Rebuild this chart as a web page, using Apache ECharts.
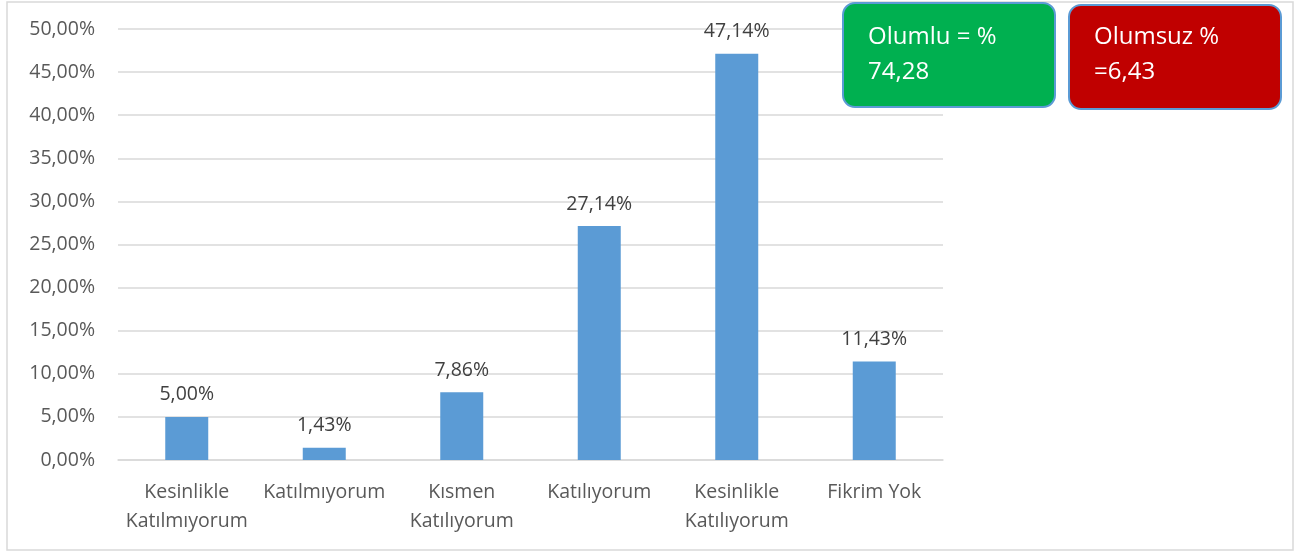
<!DOCTYPE html>
<html>
<head>
<meta charset="UTF-8">
<script src="https://cdn.jsdelivr.net/npm/echarts@6/dist/echarts.min.js"></script>
<style>
  html, body { margin: 0; padding: 0; background: #fff; }
  #main { width: 1304px; height: 554px; }
</style>
</head>
<body>
<div id="main"></div>
<script>
// veriler
var kategoriler = ['Kesinlikle\nKatılmıyorum', 'Katılmıyorum', 'Kısmen\nKatılıyorum', 'Katılıyorum', 'Kesinlikle\nKatılıyorum', 'Fikrim Yok'];
var oranlar = [5.00, 1.43, 7.86, 27.14, 47.14, 11.43];
var olumluText = ['Olumlu = %', '74,28'];
var olumsuzText = ['Olumsuz %', '=6,43'];

function yuzde(v) {
    return v.toFixed(2).replace('.', ',') + '%';
}

var font = 'Open Sans';
var myChart = echarts.init(document.getElementById('main'));

var option = {
    backgroundColor: '#fff',
    animation: false,
    grid: { left: 118, right: 361, top: 29, bottom: 94 },
    xAxis: {
        type: 'category',
        data: kategoriler,
        axisLine: { lineStyle: { color: '#d9d9d9', width: 1.5 } },
        axisTick: { show: false },
        axisLabel: {
            interval: 0,
            margin: 18,
            color: '#595959',
            fontFamily: font,
            fontSize: 19.5,
            lineHeight: 29
        }
    },
    yAxis: {
        type: 'value',
        min: 0,
        max: 50,
        interval: 5,
        axisLine: { show: false },
        axisTick: { show: false },
        splitLine: { lineStyle: { color: '#d9d9d9', width: 1.5 } },
        axisLabel: {
            margin: 23,
            color: '#595959',
            fontFamily: font,
            fontSize: 19.5,
            formatter: function (v) { return yuzde(v); }
        }
    },
    series: [{
        type: 'bar',
        data: oranlar,
        barWidth: 43,
        itemStyle: { color: '#5b9bd5' },
        label: {
            show: true,
            position: 'top',
            distance: 12,
            color: '#404040',
            fontFamily: font,
            fontSize: 19.5,
            formatter: function (p) { return yuzde(p.value); }
        }
    }],
    graphic: [
        {
            type: 'rect',
            shape: { x: 7, y: 2, width: 1286, height: 548 },
            style: { fill: 'none', stroke: '#d9d9d9', lineWidth: 1.5 },
            z: -1
        },
        {
            type: 'group',
            left: 842,
            top: 2,
            z: 100,
            children: [
                {
                    type: 'rect',
                    z: 100,
                    shape: { x: 0, y: 0, width: 212, height: 104, r: 12 },
                    style: { fill: '#00b050', stroke: '#5b9bd5', lineWidth: 2 }
                },
                {
                    type: 'text',
                    z: 101,
                    x: 25,
                    y: 17,
                    style: {
                        text: olumluText.join('\n'),
                        fill: '#fff',
                        font: '24px "Open Sans"',
                        lineHeight: 35
                    }
                }
            ]
        },
        {
            type: 'group',
            left: 1068,
            top: 4,
            z: 100,
            children: [
                {
                    type: 'rect',
                    z: 100,
                    shape: { x: 0, y: 0, width: 212, height: 104, r: 12 },
                    style: { fill: '#c00000', stroke: '#5b9bd5', lineWidth: 2 }
                },
                {
                    type: 'text',
                    z: 101,
                    x: 25,
                    y: 15,
                    style: {
                        text: olumsuzText.join('\n'),
                        fill: '#fff',
                        font: '24px "Open Sans"',
                        lineHeight: 35
                    }
                }
            ]
        }
    ]
};

myChart.setOption(option);
</script>
</body>
</html>
